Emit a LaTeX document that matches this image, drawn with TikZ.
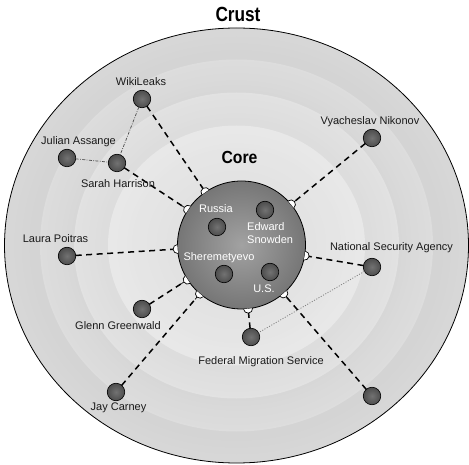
\documentclass[tikz,border=0pt]{standalone}
\usepackage{fontspec}
\setmainfont{Liberation Sans}
\usepackage{graphicx}
\usetikzlibrary{calc}

\definecolor{coreC}{HTML}{A2A2A2}
\definecolor{coreE}{HTML}{4A4A4A}
\definecolor{ballC}{HTML}{727272}
\definecolor{ballE}{HTML}{282828}
\definecolor{txt}{HTML}{1A1A1A}

\pgfdeclareradialshading{coreshade}{\pgfpoint{0bp}{0bp}}{color(0bp)=(coreC); color(50bp)=(coreE)}
\pgfdeclareradialshading{ballshade}{\pgfpoint{0bp}{0bp}}{color(0bp)=(ballC); color(50bp)=(ballE)}

\tikzset{
  ball/.style={circle, minimum size=17.5pt, inner sep=0pt, outer sep=0pt, draw=black, line width=0.6pt, shading=ballshade},
  corebody/.style={circle, minimum size=128pt, inner sep=0pt, outer sep=0pt, draw=black, line width=0.8pt, shading=coreshade},
  lbl/.style={font=\fontsize{11}{12.7}\selectfont, text=txt, inner sep=0pt},
  corelbl/.style={lbl, text=white},
  titlelbl/.style={inner sep=0pt, text=black},
  dashlink/.style={draw=black, line width=1.5pt, dash pattern=on 6pt off 4.5pt, shorten >=4.5pt},
  dotlink/.style={draw=gray!60!black, line width=0.7pt, dash pattern=on 3pt off 1.4pt on 0.8pt off 1.4pt},
  faintlink/.style={draw=gray, line width=0.8pt, dash pattern=on 1pt off 1.6pt},
  socketarc/.style={draw=black, line width=0.7pt, fill=white},
  outline/.style={draw=black, line width=0.8pt},
}

\newcommand\socketfor[1]{%
  \draw[socketarc] let \p1=($(#1)-(core.center)$), \n1={atan2(\y1,\x1)}, \n2={\n1-90}, \n3={\n1+90} in
    ($(core.center)+(\n1:64pt)+(\n2:4.5pt)$) arc[start angle=\n2, end angle=\n3, radius=4.5pt]
    ($(core.center)+(\n1:68.5pt)$) -- ($(core.center)+(\n1:71.5pt)$);
}

\begin{document}
\begin{tikzpicture}[x=1pt,y=-1pt]
\useasboundingbox (0,0) rectangle (469,465);

% crust rings (stepped radial gradients)
\coordinate (ringc) at (236.5,245.5);
\foreach \rxo/\ryo/\rxi/\ryi/\pa/\pb in {232/217.5/196.5/186/15.5/17, 196.5/186/162.5/153/13.5/15.5, 162.5/153/128.5/120/11.5/13.5, 128.5/120/60/56/9/11.5}{
  \foreach \k in {0,...,13}{
    \pgfmathsetmacro\rx{\rxo-(\rxo-\rxi)*\k/14}
    \pgfmathsetmacro\ry{\ryo-(\ryo-\ryi)*\k/14}
    \pgfmathsetmacro\pc{\pa+(\pb-\pa)*\k/13}
    \fill[black!\pc!white] (ringc) ellipse [x radius=\rx*1pt, y radius=\ry*1pt];
  }
}
\draw[outline] (ringc) ellipse [x radius=232pt, y radius=217.5pt];

% titles
\node[titlelbl] (crustT) at (238,14) {\scalebox{0.84}[1]{\fontsize{20.5}{22}\selectfont\bfseries Crust}};
\node[titlelbl] (coreT) at (239.5,157) {\scalebox{0.9}[1]{\fontsize{17.5}{19}\selectfont\bfseries Core}};

% core
\node[corebody] (core) at (241.5,245) {};

% outer actors
\node[ball] (wiki) at (142,99) {};
\node[ball] (julian) at (67,158) {};
\node[ball] (sarah) at (117,163) {};
\node[ball] (nikonov) at (372,138) {};
\node[ball] (laura) at (67,256) {};
\node[ball] (nsa) at (372,267) {};
\node[ball] (glenn) at (142,309) {};
\node[ball] (jay) at (116,392) {};
\node[ball] (fms) at (251,337) {};
\node[ball] (unk) at (372,396) {};

% core actors
\node[ball] (russia) at (217,227) {};
\node[ball] (snowden) at (265,210) {};
\node[ball] (sheremetyevo) at (224,274) {};
\node[ball] (us) at (270,272) {};

% weak links
\draw[dotlink] (wiki) -- (sarah);
\draw[dotlink] (julian) -- (sarah);
\draw[faintlink] (nsa) -- (fms);

% links to the core
\foreach \a in {wiki,sarah,nikonov,laura,nsa,glenn,jay,fms,unk}{
  \draw[dashlink] (\a) -- (core);
}
\foreach \a in {wiki,sarah,nikonov,laura,nsa,glenn,jay,fms,unk}{
  \socketfor{\a}
}

% labels
\node[lbl] (wikiL) at (141,82) {WikiLeaks};
\node[lbl] (julianL) at (78.5,142) {Julian Assange};
\node[lbl] (sarahL) at (118,184) {Sarah Harrison};
\node[lbl] (nikonovL) at (370,122) {Vyacheslav Nikonov};
\node[lbl] (lauraL) at (55.5,239) {Laura Poitras};
\node[lbl] (nsaL) at (391.5,248) {National Security Agency};
\node[lbl] (glennL) at (118,326) {Glenn Greenwald};
\node[lbl] (jayL) at (118.5,408) {Jay Carney};
\node[lbl] (fmsL) at (261,362) {Federal Migration Service};

\node[corelbl] (russiaL) at (216,209) {Russia};
\node[corelbl, anchor=west, align=left] (snowdenL) at (247,233) {Edward\\Snowden};
\node[corelbl] (sheremetyevoL) at (219,258) {Sheremetyevo};
\node[corelbl] (usL) at (264,289) {U.S.};
\end{tikzpicture}
\end{document}
